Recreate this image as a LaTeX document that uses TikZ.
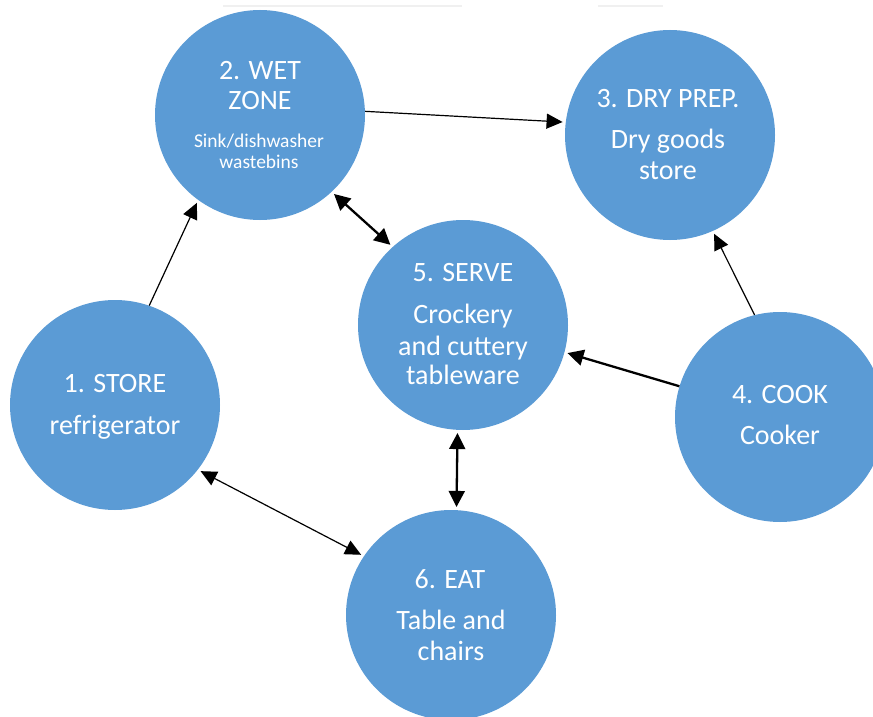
\documentclass[tikz,border=0pt]{standalone}
\usepackage{fontspec}
\setmainfont{Carlito}
\usetikzlibrary{arrows.meta}
\definecolor{zone}{HTML}{5B9BD5}
\begin{document}
\begin{tikzpicture}[x=1pt,y=-1pt,
  zonecirc/.style={circle,fill=zone,draw=none,minimum size=210pt,inner sep=0pt},
  bigtxt/.style={text=white,anchor=base,font=\fontsize{28}{28}\selectfont,inner sep=0pt},
  smalltxt/.style={text=white,anchor=base,font=\fontsize{19.5}{19.5}\selectfont,inner sep=0pt},
  thinarrow/.style={line width=1.2pt,-{Triangle[length=16pt,width=15pt]},shorten >=3pt},
  thinboth/.style={line width=1.2pt,{Triangle[length=16pt,width=15pt]}-{Triangle[length=16pt,width=15pt]},shorten >=3pt,shorten <=3pt},
  thickarrow/.style={line width=2.3pt,-{Triangle[length=16pt,width=16pt]},shorten >=3pt},
  thickboth/.style={line width=2.3pt,{Triangle[length=16pt,width=16pt]}-{Triangle[length=16pt,width=16pt]},shorten >=3pt,shorten <=3pt}
]
\useasboundingbox (0,0) rectangle (873,717);
\fill[white] (0,0) rectangle (873,717);
% faint line at top
\draw[black!6,line width=2pt] (223,6) -- (462,6);
\draw[black!6,line width=2pt] (598,6) -- (663,6);

% circles
\node[zonecirc] (c1) at (115,405) {};
\node[zonecirc] (c2) at (260,115) {};
\node[zonecirc] (c3) at (670,135) {};
\node[zonecirc] (c4) at (780,417) {};
\node[zonecirc] (c5) at (463,325) {};
\node[zonecirc] (c6) at (451,615) {};

% texts
\node[bigtxt] (t2a) at (260,79) {2. WET};
\node[bigtxt] (t2b) at (260,110) {ZONE};
\node[smalltxt] (t2c) at (259,147) {Sink/dishwasher};
\node[smalltxt] (t2d) at (259,168) {wastebins};

\node[bigtxt] (t3a) at (668,107) {3. DRY PREP.};
\node[bigtxt] (t3b) at (668,148) {Dry goods};
\node[bigtxt] (t3c) at (668,179) {store};

\node[bigtxt] (t5a) at (463,281) {5. SERVE};
\node[bigtxt] (t5b) at (463,323) {Crockery};
\node[bigtxt] (t5c) at (463,355) {and cuttery};
\node[bigtxt] (t5d) at (463,384) {tableware};

\node[bigtxt] (t1a) at (115,392) {1. STORE};
\node[bigtxt] (t1b) at (115,434) {refrigerator};

\node[bigtxt] (t4a) at (780,403) {4. COOK};
\node[bigtxt] (t4b) at (780,444) {Cooker};

\node[bigtxt] (t6a) at (450,588) {6. EAT};
\node[bigtxt] (t6b) at (451,629) {Table and};
\node[bigtxt] (t6c) at (451,660) {chairs};

% connectors
\draw[thinarrow] (c1.71.4) -- (c2.234.8);
\draw[thinarrow] (c2.2.6) -- (c3.173.3);
\draw[thickboth] (c2.313.9) -- (c5.132.4);
\draw[thinarrow] (c4.104.2) -- (c3.294.7);
\draw[thickarrow] (c4.163) -- (c5.345.2);
\draw[thickboth] (c5.267.9) -- (c6.87.3);
\draw[thinboth] (c1.322.4) -- (c6.146);
\end{tikzpicture}
\end{document}
